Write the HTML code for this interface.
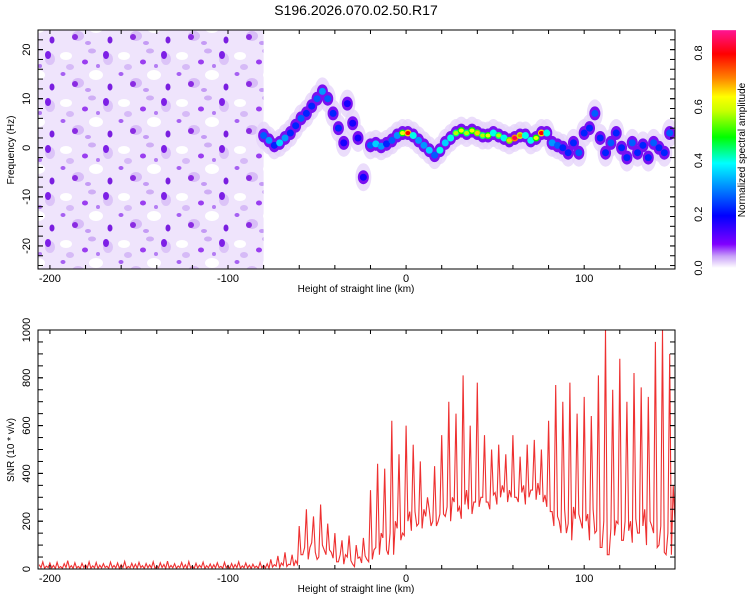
<!DOCTYPE html>
<html><head><meta charset="utf-8"><style>
body{margin:0;background:#fff;}
svg{display:block;font-family:"Liberation Sans",sans-serif;}
</style></head><body>
<svg id="c" width="750" height="600" viewBox="0 0 750 600">
<defs>
<pattern id="noise" width="58" height="47" patternUnits="userSpaceOnUse">
<rect width="58" height="47" fill="#efe4fc"/>
<ellipse cx="8" cy="9" rx="6" ry="4" fill="#fff"/>
<ellipse cx="38" cy="28" rx="7" ry="5" fill="#fff"/>
<ellipse cx="50" cy="12" rx="5" ry="6" fill="#dcc4f8"/>
<ellipse cx="20" cy="36" rx="6" ry="5" fill="#d8bdf7"/>
<ellipse cx="17" cy="37" rx="3" ry="3" fill="#8a2be2"/>
<ellipse cx="48" cy="8" rx="3" ry="4" fill="#7d1fe6"/>
<ellipse cx="27" cy="15" rx="3" ry="2.5" fill="#9a3ef0"/>
<ellipse cx="52" cy="40" rx="2.5" ry="3.5" fill="#7a1ee0"/>
<ellipse cx="5" cy="27" rx="2.5" ry="2" fill="#a660f2"/>
<ellipse cx="34" cy="4" rx="4" ry="2.5" fill="#cfaef5"/>
<ellipse cx="12" cy="20" rx="4" ry="3" fill="#d6baf7"/>
<ellipse cx="40" cy="19" rx="2" ry="2" fill="#b47cf4"/>
<ellipse cx="30" cy="43" rx="3" ry="2" fill="#c49af5"/>
</pattern>
<linearGradient id="cmap" x1="0" y1="1" x2="0" y2="0">
<stop offset="0" stop-color="#ffffff"/><stop offset="0.05" stop-color="#c8a0f8"/>
<stop offset="0.1" stop-color="#8000ff"/><stop offset="0.22" stop-color="#0000ff"/>
<stop offset="0.33" stop-color="#0080ff"/><stop offset="0.44" stop-color="#00ffff"/>
<stop offset="0.55" stop-color="#00ff00"/><stop offset="0.66" stop-color="#c8ff00"/>
<stop offset="0.72" stop-color="#ffff00"/><stop offset="0.8" stop-color="#ff8000"/>
<stop offset="0.9" stop-color="#ff0000"/><stop offset="1" stop-color="#ff1493"/>
</linearGradient>
</defs>
<text x="356" y="15" font-size="14" text-anchor="middle">S196.2026.070.02.50.R17</text>
<g id="topPanel"></g>
<g id="botPanel"></g>
<g id="cbar"></g>
</svg>
<script>
// --- data ---
const ridgeKm = [-80,-77,-74,-71,-68,-65,-62,-59,-56,-53,-50,-47,-44,-41,-38,-35,-33,-30,-27,-24,-20,-17,-14,-11,-8,-5,-2,1,4,7,10,13,16,19,22,25,28,31,34,37,40,43,46,49,52,55,58,61,64,67,70,73,76,79,82,85,88,91,94,97,100,103,106,109,112,115,118,121,124,127,130,133,136,139,142,145,148];
const ridgeHz = [2.5,1.5,0.5,1,2,3,4.5,6,7,8.5,10,11.5,10,7,4,1,9,5,2,-6,0.5,0.8,0.3,0.8,1.5,2.5,3,3,2.5,1.5,0.5,-0.5,-1.5,-0.5,1,2,3,3.5,3,3.5,3,2.5,2.5,3,2.5,2,1.5,2,2.5,2.5,1.5,2,3,3,1,0.5,0,-1,1,-1,3,4,7,2,-1,1,3,0,-2,1,-1,0.5,-2,1,0,-1,3];
const ridgeAmp = [0.35,0.4,0.3,0.45,0.4,0.3,0.3,0.35,0.3,0.3,0.35,0.4,0.35,0.3,0.3,0.25,0.2,0.25,0.2,0.2,0.35,0.45,0.4,0.3,0.35,0.4,0.6,0.8,0.5,0.4,0.4,0.45,0.35,0.5,0.45,0.5,0.55,0.6,0.55,0.6,0.65,0.55,0.6,0.5,0.55,0.5,0.65,0.85,0.7,0.5,0.5,0.6,0.8,0.5,0.4,0.35,0.3,0.3,0.3,0.35,0.3,0.3,0.35,0.3,0.3,0.35,0.3,0.3,0.3,0.35,0.3,0.3,0.3,0.35,0.3,0.3,0.35];
const snrStart = -206, snrStep = 2;
const snrHi = [18,30,12,25,15,28,10,22,35,14,26,11,24,17,30,13,27,16,22,12,29,15,25,18,32,11,24,20,28,14,23,17,30,12,26,19,33,15,22,13,27,18,31,12,24,16,29,14,21,18,26,11,28,15,23,19,30,13,25,16,20,12,27,15,22,
40,18,55,25,70,20,60,35,
180,60,250,90,220,40,270,80,190,70,
150,30,120,60,140,20,100,50,130,40,
330,80,440,150,420,60,620,200,480,150,
600,240,520,180,450,250,300,180,430,200,
560,220,700,300,650,260,810,330,600,280,
780,300,560,280,500,320,520,350,480,330,
560,300,470,350,520,330,540,360,500,310,
620,240,770,200,700,150,780,260,650,200,
720,230,640,150,810,90,1000,60,750,200,
880,120,700,200,820,150,760,250,720,180,
950,100,1000,60,900,350];
const snrLo = [5,3,6,4,2,5,3,6,4,3,5,2,6,4,3,5,2,4,6,3,5,4,2,6,3,5,4,3,6,2,5,4,3,5,6,2,4,5,3,6,4,2,5,3,4,6,2,5,3,4,6,3,5,2,4,6,3,5,4,2,6,3,5,4,3,
8,12,6,15,10,18,12,20,
60,90,40,110,70,50,100,60,80,45,
30,60,20,50,35,10,45,25,55,30,
40,90,60,130,80,150,60,170,120,140,
200,160,240,190,170,220,250,200,180,230,
230,260,200,280,240,210,270,250,230,280,
260,300,280,250,310,270,300,320,280,300,
300,280,320,270,300,330,290,310,280,260,
240,180,220,150,250,190,120,210,230,170,
200,120,250,160,90,200,60,170,140,190,
120,200,160,110,210,150,180,100,200,150,
90,180,70,150,60,200];
const xTicks = [-200,-100,0,100];
const fTicks = [-20,-10,0,10,20];
const sTicks = [0,200,400,600,800,1000];
const cTicks = [0,0.2,0.4,0.6,0.8];

const NS="http://www.w3.org/2000/svg";
function mk(p,t,a){const e=document.createElementNS(NS,t);for(const k in a)e.setAttribute(k,a[k]);p.appendChild(e);return e;}
const L=38,R=675;
const xs=k=>L+(k+206.7)*(R-L)/(151+206.7);
const T1=30,B1=269, fy=h=>T1+(24-h)*(B1-T1)/(24+24.7);
const T2=330,B2=569, sy=v=>B2-v*(B2-T2)/1000;
function cmap(a){
 const st=[[0,255,255,255],[0.05,200,160,248],[0.1,128,0,255],[0.22,0,0,255],[0.33,0,128,255],[0.44,0,255,255],[0.55,0,255,0],[0.66,200,255,0],[0.72,255,255,0],[0.8,255,128,0],[0.9,255,0,0],[1,255,20,147]];
 for(let i=1;i<st.length;i++){if(a<=st[i][0]){const p=st[i-1],q=st[i],t=(a-p[0])/(q[0]-p[0]);return `rgb(${[1,2,3].map(j=>Math.round(p[j]+(q[j]-p[j])*t)).join(',')})`;}}
 return 'rgb(255,20,147)';
}
const topG=document.getElementById('topPanel');
const nz=mk(topG,'rect',{x:L,y:T1,width:xs(-80)-L,height:B1-T1,fill:'url(#noise)'});


const clip=mk(topG,'clipPath',{id:'cp1'});mk(clip,'rect',{x:L,y:T1,width:R-L,height:B1-T1});
const rg=mk(topG,'g',{'clip-path':'url(#cp1)'});
const nR=Math.min(ridgeKm.length,ridgeHz.length,ridgeAmp.length);
for(let i=0;i<nR;i++){const h=mk(rg,'ellipse',{cx:xs(ridgeKm[i]),cy:fy(ridgeHz[i]),rx:8,ry:14,fill:'#e6d4fa',opacity:0.8});
 
 }
for(let i=0;i<nR;i++){const h=mk(rg,'ellipse',{cx:xs(ridgeKm[i]),cy:fy(ridgeHz[i]),rx:5.5,ry:7,fill:'#7a10f0'});
 
 }
for(let i=0;i<nR;i++){const h=mk(rg,'ellipse',{cx:xs(ridgeKm[i]),cy:fy(ridgeHz[i]),rx:3.5,ry:3.5,fill:cmap(Math.max(ridgeAmp[i]-0.05,0.2))});
 
 
 if(ridgeAmp[i]>0.5){const c=mk(rg,'ellipse',{cx:xs(ridgeKm[i]),cy:fy(ridgeHz[i]),rx:2.5,ry:2,fill:cmap(Math.min(ridgeAmp[i]+0.1,1))});
 
 }}
function frame(g,T,B,name){
 const f=mk(g,'rect',{x:L,y:T,width:R-L,height:B-T,fill:'none',stroke:'#000','stroke-width':1});
 
 
 for(let k=-200;k<=150;k+=20){const x=xs(k);mk(g,'line',{x1:x,x2:x,y1:B,y2:B-4,stroke:'#000'});mk(g,'line',{x1:x,x2:x,y1:T,y2:T+4,stroke:'#000'});}
 xTicks.forEach(k=>{const t=mk(g,'text',{x:xs(k),y:B+13,'font-size':11,'text-anchor':'middle'});t.textContent=k;
 
 });
 const xl=mk(g,'text',{x:356,y:B+23,'font-size':10,'text-anchor':'middle'});xl.textContent='Height of straight line (km)';
 
 
}
function ytick(g,y,lab,name){mk(g,'line',{x1:L,x2:L+5,y1:y,y2:y,stroke:'#000'});mk(g,'line',{x1:R,x2:R-5,y1:y,y2:y,stroke:'#000'});
 if(lab!==null){const t=mk(g,'text',{x:30,y:y,'font-size':11,'text-anchor':'middle',transform:`rotate(-90 30 ${y})`});t.textContent=lab;
 
 }}
frame(topG,T1,B1,'spectrogram-frame');
for(let h=-24;h<=24;h+=2)ytick(topG,fy(h),null);
fTicks.forEach(h=>ytick(topG,fy(h),h,'y-tick-label'));
const yl=mk(topG,'text',{x:14,y:150,'font-size':10,'text-anchor':'middle',transform:'rotate(-90 14 150)'});yl.textContent='Frequency (Hz)';



const botG=document.getElementById('botPanel');
const pp=[];
snrHi.forEach((v,i)=>{const k=snrStart+i*snrStep;pp.push(`${xs(k).toFixed(1)},${sy(v).toFixed(1)}`);if(i<snrLo.length)pp.push(`${xs(k+1).toFixed(1)},${sy(snrLo[i]).toFixed(1)}`);});
const ln=mk(botG,'polyline',{points:pp.join(' '),fill:'none',stroke:'#ee3030','stroke-width':1.1});


frame(botG,T2,B2,'snr-frame');
for(let v=0;v<=1000;v+=50)ytick(botG,sy(v),null);
sTicks.forEach(v=>ytick(botG,sy(v),v,'y-tick-label'));
const yl2=mk(botG,'text',{x:14,y:450,'font-size':10,'text-anchor':'middle',transform:'rotate(-90 14 450)'});yl2.textContent='SNR (10 * v/v)';



const cb=document.getElementById('cbar');
const cy=v=>268-v*(268-53)/0.8;
const cr=mk(cb,'rect',{x:712,y:cy(0.885),width:24,height:268-cy(0.885),fill:'url(#cmap)'});


cTicks.forEach(v=>{const t=mk(cb,'text',{x:702,y:cy(v),'font-size':11,'text-anchor':'middle',transform:`rotate(-90 702 ${cy(v)})`});t.textContent=v.toFixed(1);
 
 });
const ct=mk(cb,'text',{x:745,y:150,'font-size':10,'text-anchor':'middle',transform:'rotate(-90 745 150)'});ct.textContent='Normalized spectral amplitude';


</script>
</body></html>
